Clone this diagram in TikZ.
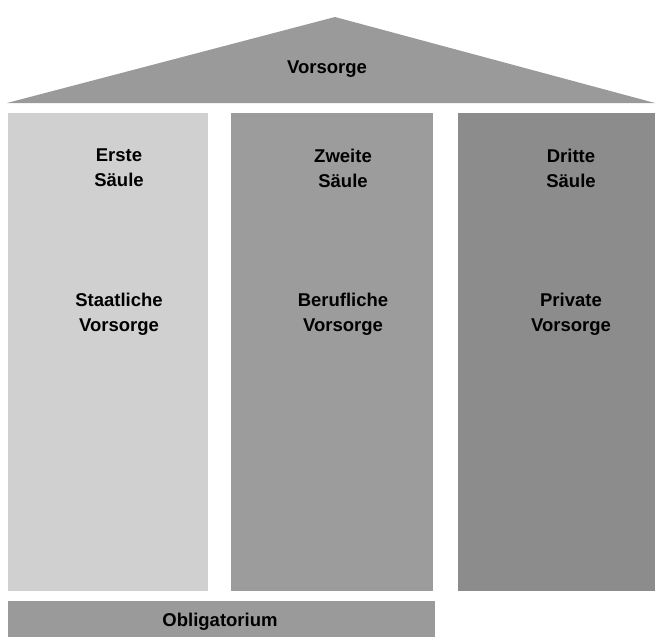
\documentclass[tikz,border=0pt]{standalone}
\usepackage{fontspec}
\setmainfont{Liberation Sans}
\definecolor{roofgray}{HTML}{9A9A9A}
\definecolor{firstgray}{HTML}{D0D0D0}
\definecolor{secondgray}{HTML}{9C9C9C}
\definecolor{thirdgray}{HTML}{8C8C8C}
\tikzset{
  label text/.style={font=\fontsize{18.5}{25}\selectfont\bfseries, align=center, text=black, inner sep=0pt}
}
\begin{document}
\begin{tikzpicture}[x=1pt, y=-1pt]
\useasboundingbox (0,0) rectangle (658,637);
% roof
\fill[roofgray] (7,103) -- (335,17) -- (655,103) -- cycle;
\node[label text] (roof) at (327,69) {Vorsorge};
% pillars
\fill[firstgray] (8,113) rectangle (208,591);
\fill[secondgray] (231,113) rectangle (433,591);
\fill[thirdgray] (458,113) rectangle (655,591);
\node[label text] (first) at (119,168) {Erste\\Säule};
\node[label text] (second) at (343,168) {Zweite\\Säule};
\node[label text] (third) at (571,168) {Dritte\\Säule};
\node[label text] (state) at (119,314) {Staatliche\\Vorsorge};
\node[label text] (job) at (343,314) {Berufliche\\Vorsorge};
\node[label text] (private) at (571,314) {Private\\Vorsorge};
% base
\fill[roofgray] (8,601) rectangle (435,637);
\node[label text] (base) at (220,622) {Obligatorium};
\end{tikzpicture}
\end{document}
